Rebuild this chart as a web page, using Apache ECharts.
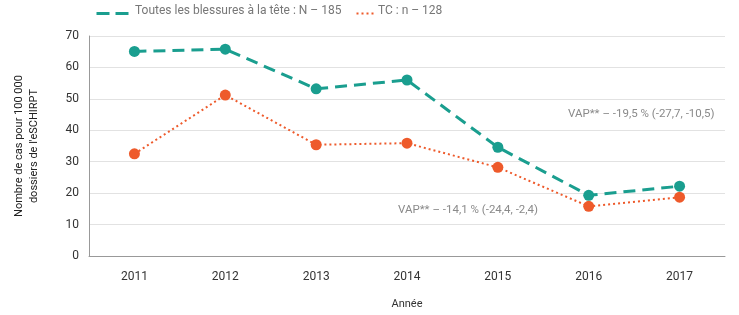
<!DOCTYPE html>
<html>
<head>
<meta charset="utf-8">
<script src="https://cdn.jsdelivr.net/npm/echarts@6/dist/echarts.min.js"></script>
<style>
  html, body { margin: 0; padding: 0; background: #fff; }
  #chart { width: 739px; height: 315px; }
</style>
</head>
<body>
<div id="chart"></div>
<script>
  // data
  var years = ['2011', '2012', '2013', '2014', '2015', '2016', '2017'];
  var toutes = [65.1, 65.8, 53.2, 56.0, 34.6, 19.3, 22.2];
  var tc = [32.5, 51.2, 35.4, 35.9, 28.2, 15.8, 18.7];
  var yTicks = [0, 10, 20, 30, 40, 50, 60, 70];

  var font = '"Roboto", sans-serif';
  var green = '#1a9e8f';
  var orange = '#ee5a2b';

  var chart = echarts.init(document.getElementById('chart'));
  var option = {
    animation: false,
    textStyle: { fontFamily: font },
    legend: { show: false },
    grid: { left: 89, right: 14, top: 36, bottom: 59 },
    xAxis: {
      type: 'category',
      data: years,
      name: 'Année',
      nameLocation: 'middle',
      nameGap: 43,
      nameTextStyle: { color: '#333', fontSize: 11, fontFamily: font },
      axisLine: { lineStyle: { color: '#999' } },
      axisTick: { inside: true, length: 5, lineStyle: { color: '#999' } },
      axisLabel: { color: '#333', fontSize: 12, margin: 15, fontFamily: font }
    },
    yAxis: {
      type: 'value',
      min: yTicks[0],
      max: yTicks[yTicks.length - 1],
      interval: 10,
      name: 'Nombre de cas pour 100 000\ndossiers de l\'eSCHIRPT',
      nameLocation: 'middle',
      nameGap: 47,
      nameTextStyle: { color: '#222', fontSize: 11, lineHeight: 15, fontFamily: font },
      axisLine: { show: true, lineStyle: { color: '#999' } },
      axisTick: { show: false },
      axisLabel: { color: '#333', fontSize: 12, margin: 10, fontFamily: font },
      splitLine: { lineStyle: { color: '#e2e2e2' } }
    },
    series: [
      {
        name: 'Toutes les blessures à la tête : N – 185',
        type: 'line',
        data: toutes,
        symbol: 'circle',
        symbolSize: 11,
        itemStyle: { color: green },
        lineStyle: { color: green, width: 3, type: [12, 7] }
      },
      {
        name: 'TC : n – 128',
        type: 'line',
        data: tc,
        symbol: 'circle',
        symbolSize: 11,
        itemStyle: { color: orange },
        lineStyle: { color: orange, width: 2, type: [2, 3] }
      }
    ],
    graphic: [
      {
        type: 'text', left: 568, top: 108,
        style: { text: 'VAP** – -19,5 % (-27,7, -10,5)', fill: '#8a8a8a', font: '11.5px ' + font }
      },
      {
        type: 'text', left: 398, top: 204,
        style: { text: 'VAP** – -14,1 % (-24,4, -2,4)', fill: '#8a8a8a', font: '11.5px ' + font }
      },
      {
        type: 'line', left: 94, top: 11,
        shape: { x1: 0, y1: 0, x2: 32, y2: 0 },
        style: { stroke: green, lineWidth: 3, lineDash: [13, 6] }
      },
      {
        type: 'text', left: 135, top: 5,
        style: { text: 'Toutes les blessures à la tête : N – 185', fill: '#777', font: '12px ' + font }
      },
      {
        type: 'line', left: 354, top: 11,
        shape: { x1: 0, y1: 0, x2: 18, y2: 0 },
        style: { stroke: orange, lineWidth: 2, lineDash: [2, 3] }
      },
      {
        type: 'text', left: 378, top: 5,
        style: { text: 'TC : n – 128', fill: '#777', font: '12px ' + font }
      }
    ]
  };
  chart.setOption(option);
</script>
</body>
</html>
